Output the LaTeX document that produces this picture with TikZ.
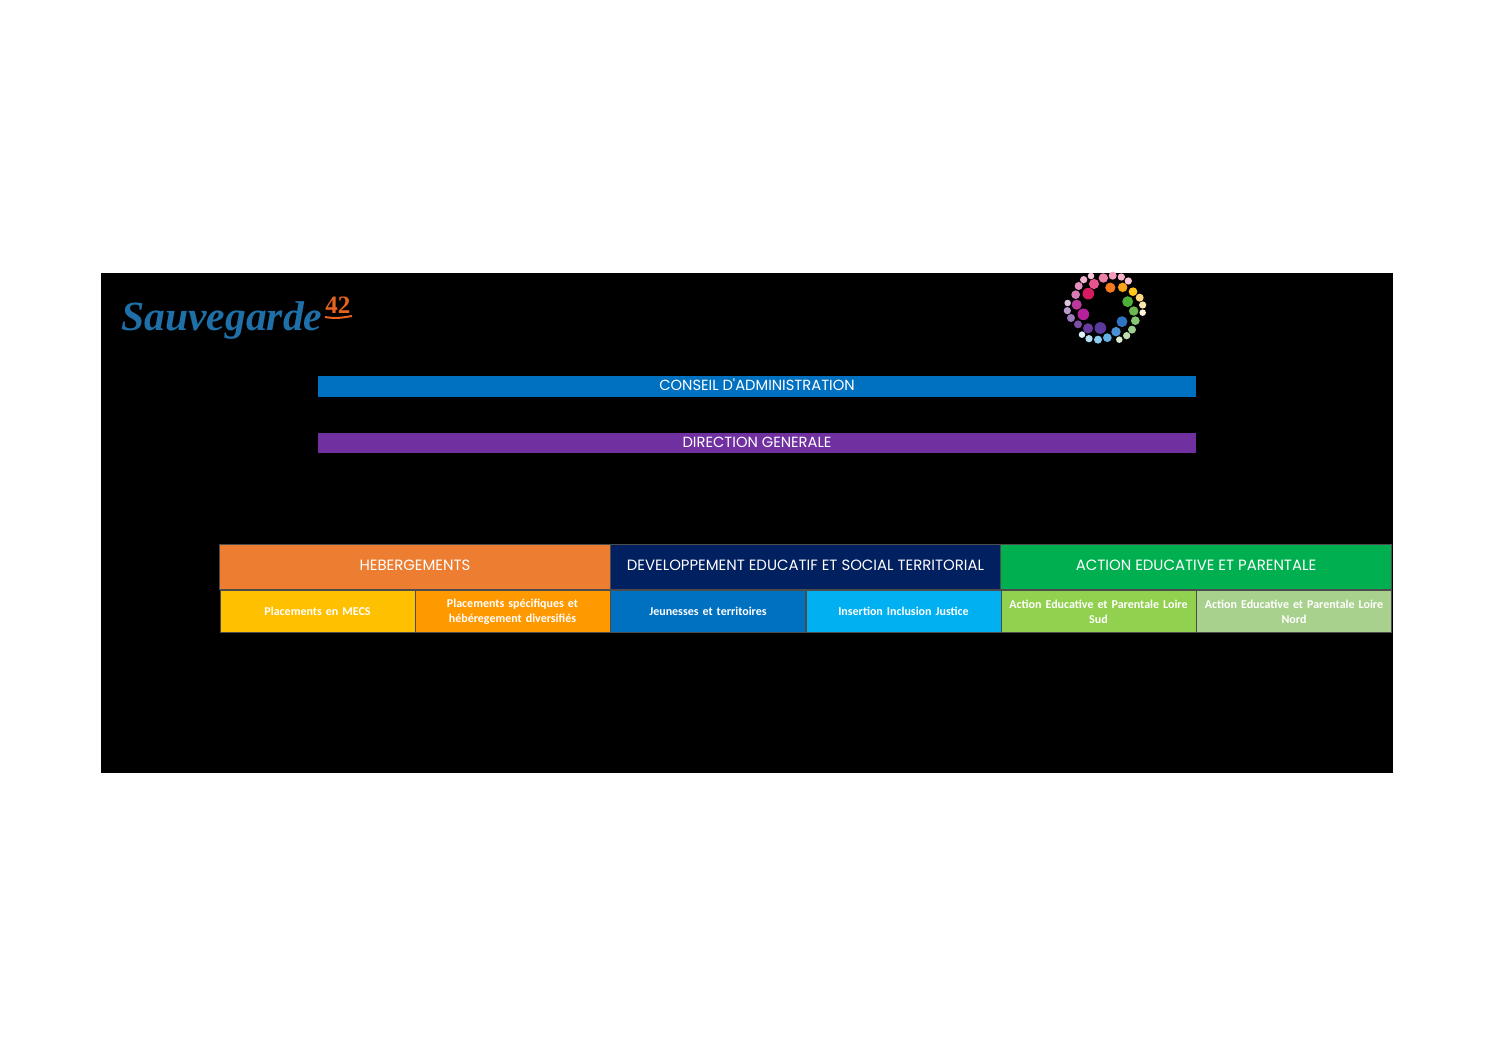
\documentclass[tikz,border=0pt]{standalone}
\usepackage{fontspec}
\setmainfont{Carlito}
\newfontfamily\headfont{Poppins}
\newfontfamily\logofont{Liberation Serif}
\usetikzlibrary{positioning}
\definecolor{barBlue}{HTML}{0070C0}
\definecolor{barPurple}{HTML}{7030A0}
\definecolor{headOrange}{HTML}{ED7D31}
\definecolor{headNavy}{HTML}{002060}
\definecolor{headGreen}{HTML}{00B050}
\definecolor{subYellow}{HTML}{FFC000}
\definecolor{subOrange}{HTML}{FF9900}
\definecolor{subSky}{HTML}{00B0F0}
\definecolor{subLime}{HTML}{92D050}
\definecolor{subSage}{HTML}{A9D18E}
\definecolor{logoBlue}{HTML}{1F70A8}
\definecolor{logoOrange}{HTML}{E8641E}
\tikzset{
  barStyle/.style={
    minimum width=439pt,
    minimum height=10.4pt,
    inner sep=0pt,
    text=white,
    text height=5.2pt,
    text depth=1pt,
    font=\headfont\fontsize{7.35}{8}\selectfont},
  headStyle/.style={
    minimum width=195.5pt,
    minimum height=22.7pt,
    inner sep=0pt,
    text=white,
    text height=5.2pt,
    text depth=1pt,
    draw=black!70,
    line width=0.25pt,
    font=\headfont\fontsize{7.45}{8}\selectfont},
  subStyle/.style={
    minimum width=97.7pt,
    minimum height=21pt,
    inner sep=0pt,
    text width=96pt,
    align=center,
    text=white,
    draw=black!70,
    line width=0.25pt,
    font=\fontsize{6}{7.5}\selectfont\bfseries}
}

\begin{document}
\begin{tikzpicture}[x=0.5pt,y=-0.5pt]
      \useasboundingbox (0,0) rectangle (1496,1058);
      \fill[color=black] (101,273) rectangle (1393,773);

      % logo left
      \node[anchor=base west, inner sep=0pt, text=logoBlue, font=\logofont\fontsize{20.8}{21}\selectfont\bfseries\itshape]
      (logoName) at (121,331) {Sauvegarde};
      \node[anchor=base west, inner sep=0pt, text=logoOrange, font=\logofont\fontsize{12.5}{13}\selectfont\bfseries]
      (logoNum) at (325,314) {42};
      \draw[color=logoOrange,line width=1] (325,317) to[out=-10,in=190] (352,316);

      % ring of dots
      \foreach \x/\y/\r/\c in {
        123/33/9/F7C6DC, 101/44/10/F2B0CF, 86/63/11/E58FBE, 77/89/12/D77DB5,
        53/114/9/DCC3E0, 52/137/10/B99BCB, 63/159/11/9C7BBB, 84/178/11/7D4FA3,
        96/209/9/DDF1FB, 117/221/10/B3DDF4, 144/224/11/8CC9EE, 172/218/12/63B1E5,
        198/200/13/4A90D4, 208/224/9/D9EBCF, 230/212/10/BFDDB0, 246/194/11/A0CE8E,
        256/167/12/86C672, 278/143/9/FBF3D2, 278/120/10/FBE5B0, 269/98/11/FDD77F,
        249/80/12/FFC61E, 218/67/13/F9A51A, 181/68/14/F47A20, 235/48/10/F7C6D8,
        214/36/10/F5B3CB, 188/32/11/F29DBD, 160/39/13/EE7FA8, 132/57/14/E8558E,
        115/86/16/D81B60, 80/119/14/B93A9A, 100/148/16/B5219A, 114/190/14/6A3BA0,
        151/189/16/5B3A9E, 216/170/15/2F74C0, 251/138/13/6BB84E, 233/110/15/4CAF3A}
      {
        \definecolor{dotColor}{HTML}{\c}
        \fill[color=dotColor] (1050+\x/3,265+\y/3) circle ({\r/5.5*1pt});
      }

      \node[barStyle,fill=barBlue] (board) at (757,386.5) {CONSEIL D'ADMINISTRATION};
      \node[barStyle,fill=barPurple] (direction) at (757,443) {DIRECTION GENERALE};

      \node[headStyle,fill=headOrange] (hebergements) at (415,566.5) {HEBERGEMENTS};
      \node[headStyle,fill=headNavy] (developpement) at (805.5,566.5) {DEVELOPPEMENT EDUCATIF ET SOCIAL TERRITORIAL};
      \node[headStyle,fill=headGreen] (action) at (1196,566.5) {ACTION EDUCATIVE ET PARENTALE};

      \node[subStyle,fill=subYellow] (mecs) at (317.5,611.5) {Placements en MECS};
      \node[subStyle,fill=subOrange] (diversifies) at (512.5,611.5) {Placements spécifiques et\\hébéregement diversifiés};
      \node[subStyle,fill=barBlue] (jeunesses) at (708,611.5) {Jeunesses et territoires};
      \node[subStyle,fill=subSky] (insertion) at (903.5,611.5) {Insertion Inclusion Justice};
      \node[subStyle,fill=subLime] (loireSud) at (1098.5,611.5) {Action Educative et Parentale Loire\\Sud};
      \node[subStyle,fill=subSage] (loireNord) at (1294,611.5) {Action Educative et Parentale Loire\\Nord};
\end{tikzpicture}
\end{document}
